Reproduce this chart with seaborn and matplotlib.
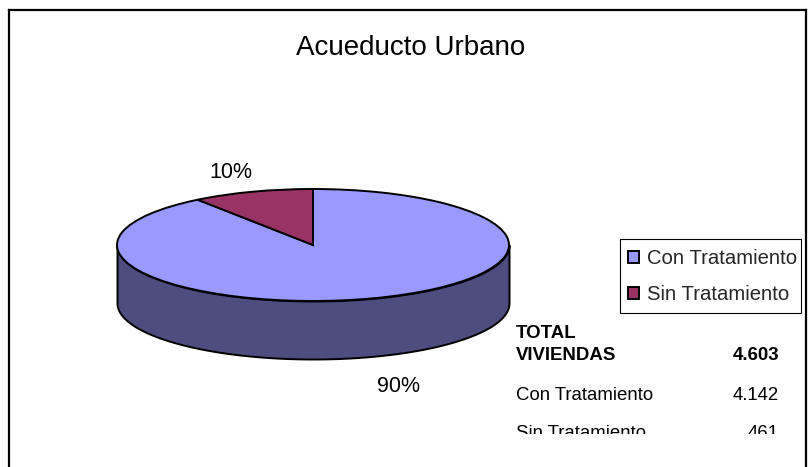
import numpy as np
import matplotlib
matplotlib.use("Agg")
import matplotlib.pyplot as plt
from matplotlib.patches import Rectangle
import seaborn as sns

# ================= DATA =================
TITLE = "Acueducto Urbano"
CATEGORIES = ["Con Tratamiento", "Sin Tratamiento"]
VIVIENDAS = [4142, 461]
PCT_LABELS = ["90%", "10%"]
TOTAL_LABEL = ["TOTAL", "VIVIENDAS"]
TOTAL_TEXT = "4.603"
VALUE_TEXT = ["4.142", "461"]

COLORS = sns.color_palette(["#9999FF", "#993366"])
SIDE_COLOR = "#4D4D80"

W, H = 809, 467
FONT = "Liberation Sans"

sns.set_theme(style="white")
plt.rcParams["font.family"] = [FONT, "DejaVu Sans"]


def px_rect(x0, y0, x1, y1):
    # pixel box (top-left origin) -> figure fractions
    return [x0 / W, 1 - y1 / H, (x1 - x0) / W, (y1 - y0) / H]


fig = plt.figure(figsize=(W / 100, H / 100), dpi=100, facecolor="white")

# ================= OUTER FRAME =================
frame = fig.add_axes(px_rect(8.5, 9.5, 806, 467))
frame.set_xticks([])
frame.set_yticks([])
sns.despine(ax=frame, top=False, right=False, left=False, bottom=True)
for side in ["top", "left", "right"]:
    frame.spines[side].set_color("black")
    frame.spines[side].set_linewidth(1.6)

# ================= PIE =================
# one data unit = 196 px across and 56 px down, so the circle reads as a tilted disc
ax = fig.add_axes(px_rect(68, 175, 558, 371))
ax.patch.set_alpha(0)

share = VIVIENDAS[1] / sum(VIVIENDAS)
wedges, _ = ax.pie(
    VIVIENDAS,
    colors=COLORS,
    startangle=90 + share * 360,
    wedgeprops={"edgecolor": "black", "linewidth": 1.4},
)
ax.set_aspect("auto")
ax.set_xlim(-1.25, 1.25)
ax.set_ylim(-2.25, 1.25)

depth = 58 / 56
t = np.linspace(np.pi, 2 * np.pi, 200)
ax.fill_between(np.cos(t), np.sin(t), np.sin(t) - depth,
                facecolor=SIDE_COLOR, edgecolor="black", linewidth=1.4, zorder=0)

# ================= TEXT =================
fig.text(411 / W, 1 - 48 / H, TITLE, ha="center", va="center", fontsize=20, color="black")
fig.text(398 / W, 1 - 386 / H, PCT_LABELS[0], ha="center", va="center", fontsize=15.5, color="black")
fig.text(231 / W, 1 - 173 / H, PCT_LABELS[1], ha="center", va="center", fontsize=15.5, color="black")

# ================= LEGEND =================
# box drawn on its own: the reference has uneven padding, which legend frames can't do
fig.add_artist(Rectangle((620 / W, 1 - 313 / H), 181 / W, 74 / H, transform=fig.transFigure,
                         facecolor="white", edgecolor="black", linewidth=0.8))
leg = fig.legend(
    wedges, CATEGORIES,
    loc="center left",
    bbox_to_anchor=(628 / W, 1 - 276.5 / H),
    borderaxespad=0,
    fontsize=14.6,
    frameon=False,
    handlelength=0.55,
    handleheight=0.55,
    handletextpad=0.4,
    labelspacing=0.85,
    borderpad=0,
)

# ================= SIDE TABLE =================
tab = fig.add_axes(px_rect(510, 318, 790, 434))
tab.axis("off")
tab.set_xlim(510, 790)
tab.set_ylim(434, 318)
tab.text(516, 333, TOTAL_LABEL[0], fontsize=13.4, fontweight="bold", va="center", color="black")
tab.text(516, 355, TOTAL_LABEL[1], fontsize=13.4, fontweight="bold", va="center", color="black")
tab.text(779, 355, TOTAL_TEXT, fontsize=13.4, fontweight="bold", va="center", ha="right", color="black")
for name, val, y in zip(CATEGORIES, VALUE_TEXT, [395, 434]):
    tab.text(516, y, name, fontsize=13.4, va="center", color="black", clip_on=True)
    tab.text(779, y, val, fontsize=13.4, va="center", ha="right", color="black", clip_on=True)

fig.savefig("out.png", dpi=100)
